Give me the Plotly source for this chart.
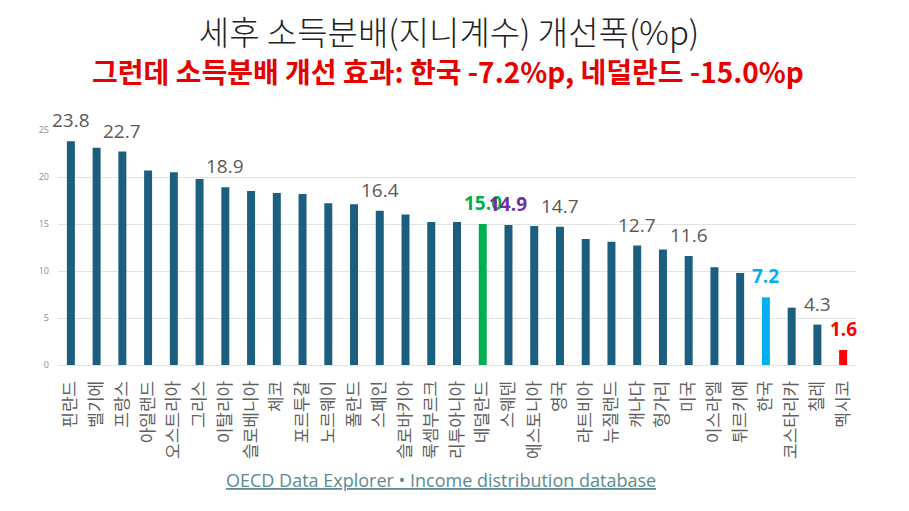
import plotly.graph_objects as go

countries = ["핀란드", "벨기에", "프랑스", "아일랜드", "오스트리아", "그리스", "이탈리아", "슬로베니아",
             "체코", "포르투갈", "노르웨이", "폴란드", "스페인", "슬로바키아", "룩셈부르크", "리투아니아",
             "네덜란드", "스웨덴", "에스토니아", "영국", "라트비아", "뉴질랜드", "캐나다", "헝가리",
             "미국", "이스라엘", "튀르키예", "한국", "코스타리카", "칠레", "멕시코"]
values = [23.8, 23.1, 22.7, 20.7, 20.5, 19.8, 18.9, 18.5,
          18.3, 18.2, 17.2, 17.1, 16.4, 16.0, 15.2, 15.2,
          15.0, 14.9, 14.8, 14.7, 13.4, 13.1, 12.7, 12.3,
          11.6, 10.4, 9.8, 7.2, 6.1, 4.3, 1.6]
labeled = ["핀란드", "프랑스", "이탈리아", "스페인", "네덜란드", "스웨덴", "영국", "캐나다",
           "미국", "한국", "칠레", "멕시코"]
highlight_bar = {"네덜란드": "#00b050", "한국": "#00b0f0", "멕시코": "#ff0000"}
highlight_label = {"네덜란드": "#00b050", "스웨덴": "#7030a0", "한국": "#00b0f0", "멕시코": "#ff0000"}
y_ticks = [0, 5, 10, 15, 20, 25]

title_text = "세후 소득분배(지니계수) 개선폭(%p)"
subtitle_text = "그런데 소득분배 개선 효과: 한국 -7.2%p, 네덜란드 -15.0%p"
source_text = "OECD Data Explorer • Income distribution database"

base_color = "#1b5e7d"
bar_colors = [highlight_bar.get(c, base_color) for c in countries]

fig = go.Figure(go.Bar(x=countries, y=values, marker=dict(color=bar_colors, line=dict(width=0)),
                       hoverinfo="x+y"))

annotations = []
for c, v in zip(countries, values):
    if c in labeled:
        col = highlight_label.get(c, "#595959")
        txt = f"{v:.1f}"
        if c in highlight_label:
            txt = f"<b>{txt}</b>"
        annotations.append(dict(x=c, y=v, xref="x", yref="y", text=txt, showarrow=False,
                                yanchor="bottom", yshift=6,
                                font=dict(family="Open Sans, Noto Sans CJK KR", size=19, color=col)))

annotations.append(dict(x=0.489, y=1.252, xref="paper", yref="paper", text=f"<b>{subtitle_text}</b>",
                        showarrow=False, yanchor="middle", xanchor="center",
                        font=dict(family="Noto Sans CJK KR", size=28, color="#e60000")))
annotations.append(dict(x=0.480, y=-0.489, xref="paper", yref="paper", text=f"<u>{source_text}</u>",
                        showarrow=False, yanchor="middle", xanchor="center",
                        font=dict(family="Open Sans, Noto Sans", size=18, color="#5b8a90")))

fig.update_layout(
    width=901, height=503,
    margin=dict(l=50, r=53, t=122, b=146),
    paper_bgcolor="white", plot_bgcolor="white",
    title=dict(text=title_text, x=0.4895, xanchor="center", y=1 - 25 / 503, yanchor="middle",
               yref="container",
               font=dict(family="Noto Sans CJK KR", size=33, color="#222222", weight=300)),
    bargap=0.69,
    showlegend=False,
    annotations=annotations,
    xaxis=dict(tickangle=-90, tickfont=dict(family="Noto Sans CJK KR", size=17, color="#5f5f5f"),
               range=[-0.5, len(countries) - 0.5],
               showgrid=False, showline=False, ticks="outside", ticklen=8, tickcolor="white",
               automargin=False),
    yaxis=dict(range=[0, 25], tickvals=y_ticks, showgrid=True, gridcolor="#e3e3e3", gridwidth=1,
               zeroline=True, zerolinecolor="#e3e3e3", zerolinewidth=1, automargin=False,
               tickfont=dict(family="Open Sans", size=9, color="#8c8c8c"), ticklabelstandoff=8),
)

fig.write_html("out.html")
